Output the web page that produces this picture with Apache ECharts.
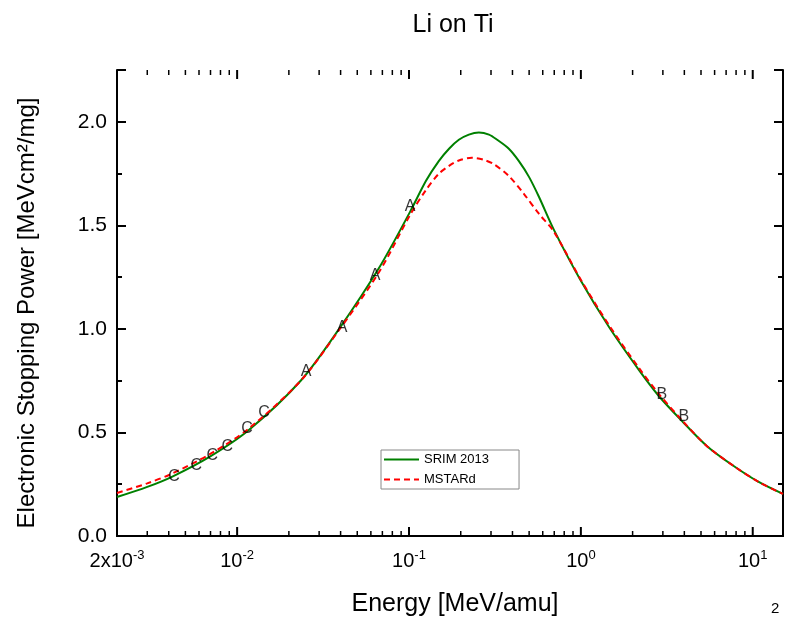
<!DOCTYPE html>
<html>
<head>
<meta charset="utf-8">
<script src="https://cdn.jsdelivr.net/npm/echarts@6/dist/echarts.min.js"></script>
<style>
  html, body { margin: 0; padding: 0; background: #fff; }
  #chart { width: 785px; height: 619px; }
</style>
</head>
<body>
<div id="chart"></div>
<script>
// SRIM 2013 curve (energy MeV/amu, stopping power)
const srimEnergy = [0.002, 0.003, 0.0042, 0.0069, 0.0117, 0.0235, 0.0392, 0.067, 0.1014, 0.1256, 0.149, 0.171, 0.195, 0.223, 0.255, 0.292, 0.326, 0.381, 0.436, 0.499, 0.570, 0.697, 1.0, 1.455, 2.174, 2.841, 3.866, 5.40, 7.75, 10.83, 15]
const srimPower = [0.188, 0.237, 0.287, 0.382, 0.512, 0.751, 1.0, 1.295, 1.565, 1.715, 1.81, 1.87, 1.913, 1.938, 1.948, 1.938, 1.913, 1.87, 1.81, 1.734, 1.638, 1.478, 1.232, 1.010, 0.802, 0.676, 0.556, 0.435, 0.338, 0.261, 0.203]

// MSTARd curve
const mstarEnergy = [0.002, 0.003, 0.0042, 0.0069, 0.0117, 0.0235, 0.0392, 0.067, 0.1014, 0.1256, 0.149, 0.171, 0.195, 0.232, 0.273, 0.312, 0.381, 0.466, 0.570, 0.697, 1.0, 1.455, 2.174, 2.841, 3.866, 5.40, 7.75, 10.83, 15]
const mstarPower = [0.208, 0.254, 0.302, 0.394, 0.519, 0.751, 0.995, 1.275, 1.55, 1.671, 1.749, 1.787, 1.813, 1.826, 1.816, 1.795, 1.738, 1.652, 1.556, 1.469, 1.237, 1.019, 0.812, 0.686, 0.560, 0.435, 0.338, 0.261, 0.203]

// experimental points, drawn as letters
const setAEnergy = [0.0252, 0.0408, 0.0634, 0.1014]
const setAPower = [0.792, 1.005, 1.256, 1.589]
const setBEnergy = [2.96, 3.97]
const setBPower = [0.681, 0.575]
const setCEnergy = [0.0043, 0.00578, 0.00716, 0.00875, 0.01143, 0.01436]
const setCPower = [0.285, 0.338, 0.386, 0.430, 0.517, 0.594]

// tick positions on the log axis
const majorTicks = [0.01, 0.1, 1, 10]
const minorMultipliers = [2, 3, 4, 5, 6, 7, 8, 9]
const minorDecades = [0.001, 0.01, 0.1, 1]

const xMin = 0.002
const xMax = 15
const yMin = 0
const yMax = 2.25

const pair = (xs, ys) => xs.map((x, i) => [x, ys[i]])
const tickData = majorTicks.map(v => [v, 9, 2])
minorDecades.forEach(d => minorMultipliers.forEach(m => {
  const v = m * d
  if (v > xMin * 1.01 && v < xMax) tickData.push([v, 5, 1.5])
}))

const font = 'Liberation Sans, Arial, sans-serif'
const supRich = {
  b: { fontSize: 20, fontFamily: font, color: '#000' },
  s: { fontSize: 13, fontFamily: font, color: '#000', padding: [0, 0, 11, 0] }
}

function letterSeries(name, letter, data) {
  return {
    name: name,
    type: 'scatter',
    data: data,
    symbol: 'circle',
    symbolSize: 1,
    itemStyle: { color: 'rgba(0,0,0,0)' },
    label: {
      show: true,
      position: 'inside',
      formatter: letter,
      color: '#000',
      fontSize: 16,
      fontFamily: font
    },
    silent: true,
    z: 5
  }
}

const plainX = {
  type: 'log',
  logBase: 10,
  min: xMin,
  max: xMax,
  axisLine: { lineStyle: { color: '#000', width: 2 } },
  axisTick: { show: false },
  splitLine: { show: false }
}

function yAx(position, interval, tickLen, withLine) {
  return {
    type: 'value',
    min: yMin,
    max: yMax,
    interval: interval,
    position: position,
    axisLine: { show: withLine, lineStyle: { color: '#000', width: 2 } },
    axisTick: { show: true, inside: true, length: tickLen, lineStyle: { color: '#000', width: 2 } },
    splitLine: { show: false },
    axisLabel: { show: false }
  }
}

const chart = echarts.init(document.getElementById('chart'))

const yMain = yAx('left', 0.5, 9, true)
yMain.name = 'Electronic Stopping Power [MeVcm²/mg]'
yMain.nameLocation = 'middle'
yMain.nameGap = 78
yMain.nameTextStyle = { fontSize: 24, fontFamily: font, color: '#000', padding: [0, 20, 0, 0] }
yMain.axisLabel = {
  margin: 10,
  fontSize: 21,
  fontFamily: font,
  color: '#000',
  formatter: v => (v > 2.1 ? '' : v.toFixed(1))
}

const option = {
  backgroundColor: '#fff',
  animation: false,
  title: {
    text: 'Li on Ti',
    left: 448,
    top: 8,
    textAlign: 'center',
    textStyle: { fontSize: 25, fontWeight: 'normal', fontFamily: font, color: '#000' }
  },
  grid: { left: 117, right: 2, top: 70, bottom: 83, outerBoundsMode: 'none', containLabel: false },
  legend: {
    data: ['SRIM 2013', 'MSTARd'],
    orient: 'vertical',
    left: 381,
    top: 450,
    itemWidth: 35,
    itemHeight: 14,
    itemGap: 7,
    padding: [3, 30, 3, 2],
    borderColor: '#888',
    borderWidth: 1,
    itemStyle: { opacity: 0 },
    textStyle: { fontSize: 13, fontFamily: font, color: '#000' }
  },
  xAxis: [
    Object.assign({}, plainX, {
      position: 'bottom',
      name: 'Energy [MeV/amu]',
      nameLocation: 'middle',
      nameGap: 56,
      nameTextStyle: { fontSize: 25, fontFamily: font, color: '#000', padding: [0, 0, 0, 10] },
      axisLabel: {
        margin: 13,
        color: '#000',
        formatter: v => {
          if (Math.abs(v - 0.002) < 1e-6) return '{b|2x10}{s|-3}'
          const e = Math.log10(v)
          if (Math.abs(e - Math.round(e)) < 1e-6) return '{b|10}{s|' + Math.round(e) + '}'
          return ''
        },
        rich: supRich
      }
    }),
    Object.assign({}, plainX, { position: 'top', axisLabel: { show: false } })
  ],
  yAxis: [
    yMain,
    yAx('left', 0.25, 5, false),
    yAx('right', 0.5, 9, true),
    yAx('right', 0.25, 5, false)
  ],
  series: [
    {
      name: 'SRIM 2013',
      type: 'line',
      data: pair(srimEnergy, srimPower),
      smooth: 0.3,
      showSymbol: false,
      symbol: 'none',
      lineStyle: { color: '#008000', width: 2 },
      itemStyle: { color: '#008000' },
      z: 3
    },
    {
      name: 'MSTARd',
      type: 'line',
      data: pair(mstarEnergy, mstarPower),
      smooth: 0.3,
      showSymbol: false,
      symbol: 'none',
      lineStyle: { color: '#ff0000', width: 2, type: [6, 4] },
      itemStyle: { color: '#ff0000' },
      z: 4
    },
    letterSeries('A', 'A', pair(setAEnergy, setAPower)),
    letterSeries('B', 'B', pair(setBEnergy, setBPower)),
    letterSeries('C', 'C', pair(setCEnergy, setCPower)),
    {
      name: 'xTicks',
      type: 'custom',
      data: tickData,
      silent: true,
      clip: false,
      encode: { x: 0 },
      renderItem: (params, api) => {
        const v = api.value(0)
        const len = api.value(1)
        const w = api.value(2)
        const b = api.coord([v, yMin])
        const t = api.coord([v, yMax])
        const st = { stroke: '#000', lineWidth: w }
        return {
          type: 'group',
          children: [
            { type: 'line', shape: { x1: b[0], y1: b[1], x2: b[0], y2: b[1] - len }, style: st },
            { type: 'line', shape: { x1: t[0], y1: t[1], x2: t[0], y2: t[1] + len }, style: st }
          ]
        }
      }
    }
  ],
  graphic: [
    {
      type: 'text',
      left: 771,
      top: 601,
      style: { text: '2', fontSize: 15, fontFamily: font, fill: '#000' }
    }
  ]
}

chart.setOption(option)
</script>
</body>
</html>
